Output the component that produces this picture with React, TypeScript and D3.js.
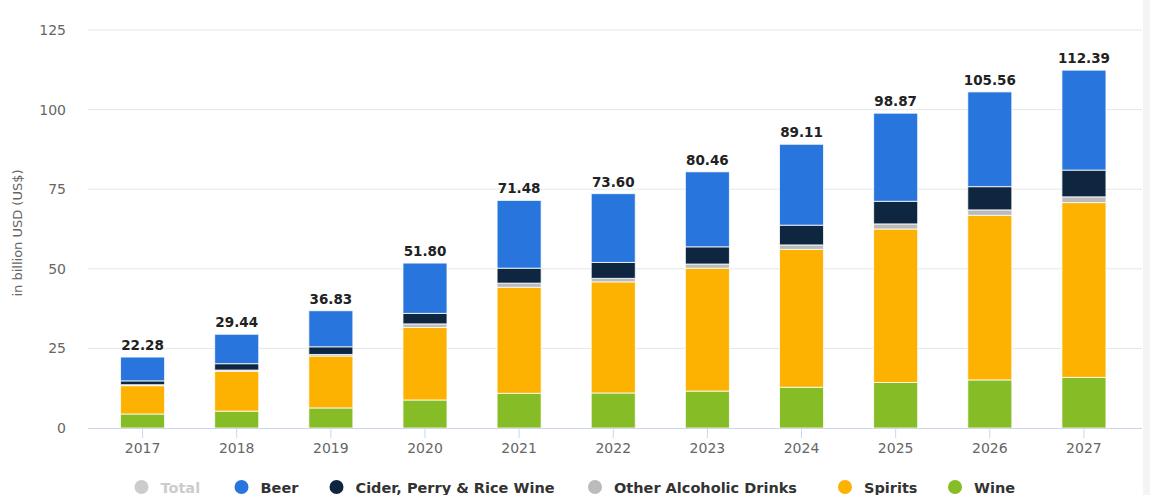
import React from "react";
import * as d3 from "d3";

const years = ["2017", "2018", "2019", "2020", "2021", "2022", "2023", "2024", "2025", "2026", "2027"];
const wine = [4.4, 5.3, 6.3, 8.8, 10.9, 11.0, 11.6, 12.8, 14.3, 15.1, 15.9];
const spirits = [8.9, 12.5, 16.3, 22.8, 33.3, 34.9, 38.6, 43.3, 48.2, 51.7, 54.9];
const other = [0.3, 0.4, 0.5, 1.1, 1.3, 1.1, 1.3, 1.4, 1.6, 1.7, 1.8];
const cider = [1.2, 2.0, 2.4, 3.3, 4.7, 5.0, 5.4, 6.2, 7.1, 7.3, 8.4];
const beer = [7.48, 9.24, 11.33, 15.8, 21.28, 21.6, 23.56, 25.41, 27.67, 29.76, 31.39];
const totals = [22.28, 29.44, 36.83, 51.8, 71.48, 73.6, 80.46, 89.11, 98.87, 105.56, 112.39];
const yTicks = [0, 25, 50, 75, 100, 125];

const seriesNames = ["Wine", "Spirits", "Other Alcoholic Drinks", "Cider, Perry & Rice Wine", "Beer"];
const seriesColors = ["#86bc25", "#fdb100", "#bbbbbb", "#0f2640", "#2876dd"];
const seriesData = [wine, spirits, other, cider, beer];

const legendItems = [
  { name: "Total", color: "#cccccc", text: "#cccccc" },
  { name: "Beer", color: "#2876dd", text: "#333333" },
  { name: "Cider, Perry & Rice Wine", color: "#0f2640", text: "#333333" },
  { name: "Other Alcoholic Drinks", color: "#bbbbbb", text: "#333333" },
  { name: "Spirits", color: "#fdb100", text: "#333333" },
  { name: "Wine", color: "#86bc25", text: "#333333" },
];
const legendX = [141.5, 241.5, 336.5, 595, 845, 955];

export default function App() {
  const W = 1150, H = 495;
  const x = d3.scaleBand<string>().domain(years).range([95.5, 1131]).paddingInner(0.532).paddingOuter(0.266);
  const y = d3.scaleLinear().domain([0, 125]).range([428, 30]);

  const table = years.map((yr, i) => {
    const row: any = { year: yr };
    seriesNames.forEach((s, k) => (row[s] = seriesData[k][i]));
    return row;
  });
  const stacked = d3.stack().keys(seriesNames)(table as any);

  return (
    <svg width={W} height={H} style={{ position: "absolute", left: 0, top: 0, background: "#fff" }}>
      <rect x={0} y={0} width={W} height={H} fill="#fff" />
      <rect x={1143} y={0} width={7} height={H} fill="#f4f4f4" />
      {yTicks.map((t) =>
        t === 0 ? null : (
          <line key={t} x1={88} x2={1142} y1={y(t)} y2={y(t)} stroke="#e6e6e6" strokeWidth={1} />
        )
      )}
      {yTicks.map((t) => (
        <text key={"l" + t} x={66} y={y(t) + 5} textAnchor="end" fontFamily="DejaVu Sans" fontSize={14} fill="#666">
          {t}
        </text>
      ))}
      <text
        transform={`translate(22,${233}) rotate(-90)`}
        textAnchor="middle"
        fontFamily="DejaVu Sans"
        fontSize={13}
        fill="#666"
      >
        in billion USD (US$)
      </text>
      {stacked.map((layer, k) => (
        <g key={seriesNames[k]}>
          {layer.map((d, i) => (
            <rect
              key={i}
              x={x(years[i])!}
              y={y(d[1])}
              width={x.bandwidth()}
              height={Math.max(0, y(d[0]) - y(d[1]))}
              fill={seriesColors[k]}
              stroke="#ffffff"
              strokeWidth={1}
              strokeOpacity={0.8}
            />
          ))}
        </g>
      ))}
      <line x1={88} x2={1142} y1={428.5} y2={428.5} stroke="#ccd6eb" strokeWidth={1} />
      {years.map((yr) => (
        <g key={yr}>
          <line
            x1={x(yr)! + x.bandwidth() / 2}
            x2={x(yr)! + x.bandwidth() / 2}
            y1={428}
            y2={438}
            stroke="#ccd6eb"
          />
          <text
            x={x(yr)! + x.bandwidth() / 2}
            y={453}
            textAnchor="middle"
            fontFamily="DejaVu Sans"
            fontSize={14}
            fill="#666"
          >
            {yr}
          </text>
        </g>
      ))}
      {years.map((yr, i) => (
        <text
          key={"t" + yr}
          x={x(yr)! + x.bandwidth() / 2}
          y={y(totals[i]) - 7}
          textAnchor="middle"
          fontFamily="DejaVu Sans"
          fontWeight="bold"
          fontSize={13.5}
          fill="#222"
        >
          {totals[i].toFixed(2)}
        </text>
      ))}
      {legendItems.map((it, i) => (
        <g key={it.name}>
          <circle cx={legendX[i]} cy={487} r={7} fill={it.color} />
          <text
            x={legendX[i] + 19}
            y={492.5}
            fontFamily="DejaVu Sans"
            fontWeight="bold"
            fontSize={14.5}
            fill={it.text}
          >
            {it.name}
          </text>
        </g>
      ))}
    </svg>
  );
}
